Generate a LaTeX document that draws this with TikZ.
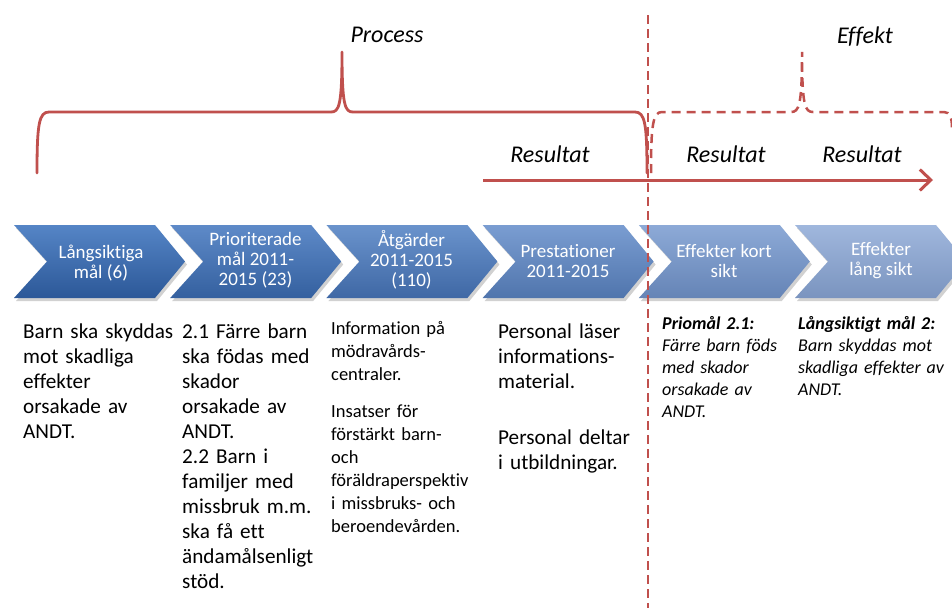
\documentclass[tikz,border=0pt]{standalone}
\usepackage{fontspec}
\setmainfont[Ligatures={NoCommon}]{Carlito}
\usetikzlibrary{arrows.meta}
\definecolor{brace}{HTML}{C0504D}
\definecolor{ctA}{HTML}{5585C6}\definecolor{cbA}{HTML}{2C5898}
\definecolor{ctB}{HTML}{5E8AC8}\definecolor{cbB}{HTML}{34609F}
\definecolor{ctC}{HTML}{6A93CC}\definecolor{cbC}{HTML}{3F68A5}
\definecolor{ctD}{HTML}{7A9DD1}\definecolor{cbD}{HTML}{5075AD}
\definecolor{ctE}{HTML}{8DAAD7}\definecolor{cbE}{HTML}{6584B6}
\definecolor{ctF}{HTML}{A0B7DD}\definecolor{cbF}{HTML}{7A94BF}
\tikzset{
  bracesolid/.style={draw=brace, line width=2.8pt, line cap=round, line join=round},
  bracedash/.style={draw=brace, line width=2.5pt, dash pattern=on 9pt off 6pt},
  vdash/.style={draw=brace, line width=2.2pt, dash pattern=on 9pt off 5pt},
  chevtext/.style={text=white, font=\fontsize{19}{20}\selectfont, align=center, inner sep=0pt},
  toplabel/.style={font=\fontsize{24}{28}\selectfont\itshape, inner sep=0pt},
  bodybig/.style={font=\fontsize{21.2}{25}\selectfont, align=left, text width=160pt, inner sep=0pt, anchor=base west},
  bodymid/.style={font=\fontsize{18.5}{23}\selectfont, align=left, text width=160pt, inner sep=0pt, anchor=base west},
  bodyit/.style={font=\fontsize{18}{22}\selectfont\itshape, align=left, text width=160pt, inner sep=0pt, anchor=base west},
}
\newcommand{\chevshape}[3]{%
  \fill[black, opacity=0.18] ({#1+2},228) -- ({#1+143},228) -- ({#1+173},264.5) -- ({#1+143},301) -- ({#1+2},301) -- ({#1+35},264.5) -- cycle;
  \path[top color=#2, bottom color=#3] (#1,225) -- ({#1+141},225) -- ({#1+171},261.5) -- ({#1+141},298) -- (#1,298) -- ({#1+33},261.5) -- cycle;
}
\begin{document}
\begin{tikzpicture}[x=1pt,y=-1pt]
\useasboundingbox (0,0) rectangle (952,608);
\fill[white] (0,0) rectangle (952,608);

% chevrons
\chevshape{14}{ctA}{cbA}
\chevshape{170.2}{ctB}{cbB}
\chevshape{326.4}{ctC}{cbC}
\chevshape{482.6}{ctD}{cbD}
\chevshape{638.8}{ctE}{cbE}
\chevshape{795}{ctF}{cbF}

\node[chevtext] (k1) at (101,263) {Långsiktiga\\mål (6)};
\node[chevtext] (k2) at (255.5,260) {Prioriterade\\mål 2011-\\2015 (23)};
\node[chevtext] (k3) at (411.5,260) {Åtgärder\\2011-2015\\(110)};
\node[chevtext] (k4) at (568,261) {Prestationer\\2011-2015};
\node[chevtext] (k5) at (724,261) {Effekter kort\\sikt};
\node[chevtext] (k6) at (881,261) {Effekter\\lång sikt};

% body texts
\node[bodybig] (t1) at (23,338) {Barn ska skyddas\\mot skadliga\\effekter\\orsakade av\\ANDT.};
\node[bodybig] (t2) at (182,338) {2.1 Färre barn\\ska födas med\\skador\\orsakade av\\ANDT.\\2.2 Barn i\\familjer med\\missbruk m.m.\\ska få ett\\ändamålsenligt\\stöd.};
\node[bodymid] (t3) at (331,334) {Information på\\mödravårds-\\centraler.\\[14pt]Insatser för\\förstärkt barn-\\och\\föräldraperspektiv\\i missbruks- och\\beroendevården.};
\node[bodybig] (t4) at (498,338) {Personal läser\\informations-\\material.\\[31pt]Personal deltar\\i utbildningar.};
\node[bodyit] (t5) at (662,329) {\textbf{Priomål 2.1:}\\Färre barn föds\\med skador\\orsakade av\\ANDT.};
\node[bodyit] (t6) at (798,329) {\textbf{Långsiktigt mål 2:}\\Barn skyddas mot\\skadliga effekter av\\ANDT.};

% top labels
\node[toplabel] (process) at (387,35) {Process};
\node[toplabel] (effekt) at (865,37) {Effekt};
\node[toplabel] (r1) at (550,154) {Resultat};
\node[toplabel] (r2) at (726,154) {Resultat};
\node[toplabel] (r3) at (862,154) {Resultat};

% braces
\draw[bracesolid] (37,173) .. controls (37,124) and (39,112) .. (49,112) -- (331,112)
  .. controls (339,112) and (342,106) .. (342,52)
  .. controls (342,106) and (345,112) .. (353,112) -- (635,112)
  .. controls (645,112) and (647,124) .. (647,173);
\draw[bracedash] (651,173) .. controls (651,124) and (653,112) .. (662,112) -- (791,112)
  .. controls (799,112) and (802,106) .. (802,52)
  .. controls (802,106) and (805,112) .. (813,112) -- (944,112)
  .. controls (950,112) and (952,118) .. (952,128);

% arrow
\coordinate (a0) at (483,180);
\coordinate (a1) at (933,180);
\draw[draw=brace, line width=3pt, -{Straight Barb[length=11pt,width=21pt,line width=3pt]}] (a0) -- (a1);

% vertical dashed divider
\coordinate (v0) at (648,15);
\coordinate (v1) at (648,608);
\draw[vdash] (v0) -- (v1);
\end{tikzpicture}
\end{document}
